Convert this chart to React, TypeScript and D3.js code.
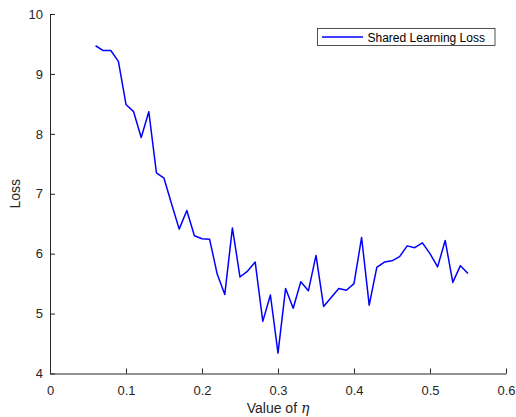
import React, { useEffect, useRef } from "react";
import * as d3 from "d3";

// eta values (x) and shared learning loss (y)
const etaValues = [
  0.06, 0.07, 0.08, 0.09, 0.1, 0.11, 0.12, 0.13, 0.14, 0.15,
  0.16, 0.17, 0.18, 0.19, 0.2, 0.21, 0.22, 0.23, 0.24, 0.25,
  0.26, 0.27, 0.28, 0.29, 0.3, 0.31, 0.32, 0.33, 0.34, 0.35,
  0.36, 0.37, 0.38, 0.39, 0.4, 0.41, 0.42, 0.43, 0.44, 0.45,
  0.46, 0.47, 0.48, 0.49, 0.5, 0.51, 0.52, 0.53, 0.54, 0.55,
];
const lossValues = [
  9.47, 9.39, 9.39, 9.21, 8.49, 8.37, 7.94, 8.37, 7.35, 7.26,
  6.83, 6.41, 6.72, 6.3, 6.25, 6.24, 5.66, 5.32, 6.43, 5.61,
  5.71, 5.86, 4.87, 5.31, 4.34, 5.42, 5.09, 5.53, 5.38, 5.97,
  5.12, 5.27, 5.42, 5.39, 5.5, 6.27, 5.14, 5.77, 5.86, 5.88,
  5.95, 6.13, 6.1, 6.18, 6.0, 5.78, 6.22, 5.52, 5.8, 5.67,
];
const xTicks = [0, 0.1, 0.2, 0.3, 0.4, 0.5, 0.6];
const yTicks = [4, 5, 6, 7, 8, 9, 10];
const seriesName = "Shared Learning Loss";

export default function App() {
  const ref = useRef<SVGSVGElement>(null);

  useEffect(() => {
    const width = 516,
      height = 417;
    const margin = { top: 14, right: 10, bottom: 43.5, left: 50 };
    const axisColor = "#262626";
    const font = "'Liberation Sans', Arial, sans-serif";

    const svg = d3.select(ref.current);
    svg.selectAll("*").remove();

    const x = d3.scaleLinear().domain([0, 0.6]).range([margin.left, width - margin.right]);
    const y = d3.scaleLinear().domain([4, 10]).range([height - margin.bottom, margin.top]);

    // x axis (ticks pointing inward)
    const xAxis = svg
      .append("g")
      .attr("transform", `translate(0, ${y(4)})`)
      .call(
        d3
          .axisBottom(x)
          .tickValues(xTicks)
          .tickFormat((d) => String(d))
          .tickSizeInner(-5)
          .tickSizeOuter(0)
          .tickPadding(12)
      );
    xAxis.select(".domain").attr("stroke", axisColor);
    xAxis.selectAll(".tick line").attr("stroke", axisColor);
    xAxis
      .selectAll(".tick text")
      .attr("fill", axisColor)
      .style("font-family", font)
      .style("font-size", "13px");

    const yAxis = svg
      .append("g")
      .attr("transform", `translate(${x(0)}, 0)`)
      .call(
        d3
          .axisLeft(y)
          .tickValues(yTicks)
          .tickFormat((d) => String(d))
          .tickSizeInner(-5)
          .tickSizeOuter(0)
          .tickPadding(7)
      );
    yAxis.select(".domain").attr("stroke", axisColor);
    yAxis.selectAll(".tick line").attr("stroke", axisColor);
    yAxis
      .selectAll(".tick text")
      .attr("fill", axisColor)
      .style("font-family", font)
      .style("font-size", "13px");

    // line
    const points = etaValues.map((e, i) => [e, lossValues[i]] as [number, number]);
    const line = d3
      .line<[number, number]>()
      .x((d) => x(d[0]))
      .y((d) => y(d[1]));
    svg
      .append("path")
      .datum(points)
      .attr("d", line)
      .attr("fill", "none")
      .attr("stroke", "#0000ff")
      .attr("stroke-width", 1.5)
      .attr("stroke-linejoin", "round");

    // axis labels
    const xLabel = svg
      .append("text")
      .attr("x", (x(0) + x(0.6)) / 2)
      .attr("y", 413)
      .attr("text-anchor", "middle")
      .attr("fill", axisColor)
      .style("font-family", font)
      .style("font-size", "14px");
    xLabel.append("tspan").text("Value of ");
    xLabel
      .append("tspan")
      .style("font-family", "'DejaVu Serif', 'Liberation Serif', serif")
      .style("font-style", "italic")
      .text("η");

    svg
      .append("text")
      .attr("transform", `translate(20, ${(y(4) + y(10)) / 2}) rotate(-90)`)
      .attr("text-anchor", "middle")
      .attr("fill", axisColor)
      .style("font-family", font)
      .style("font-size", "14px")
      .text("Loss");

    // legend
    const lg = svg.append("g");
    lg.append("rect")
      .attr("x", 317.5)
      .attr("y", 28.5)
      .attr("width", 177.5)
      .attr("height", 17)
      .attr("fill", "white")
      .attr("stroke", "#262626")
      .attr("stroke-width", 0.8);
    lg.append("line")
      .attr("x1", 322)
      .attr("x2", 363)
      .attr("y1", 37)
      .attr("y2", 37)
      .attr("stroke", "#0000ff")
      .attr("stroke-width", 1.5);
    lg.append("text")
      .attr("x", 367.5)
      .attr("y", 41.5)
      .attr("fill", "#000")
      .style("font-family", font)
      .style("font-size", "12px")
      .text(seriesName);
  }, []);

  return (
    <svg
      ref={ref}
      width={516}
      height={417}
      style={{ position: "absolute", left: 0, top: 0, background: "white" }}
    />
  );
}
